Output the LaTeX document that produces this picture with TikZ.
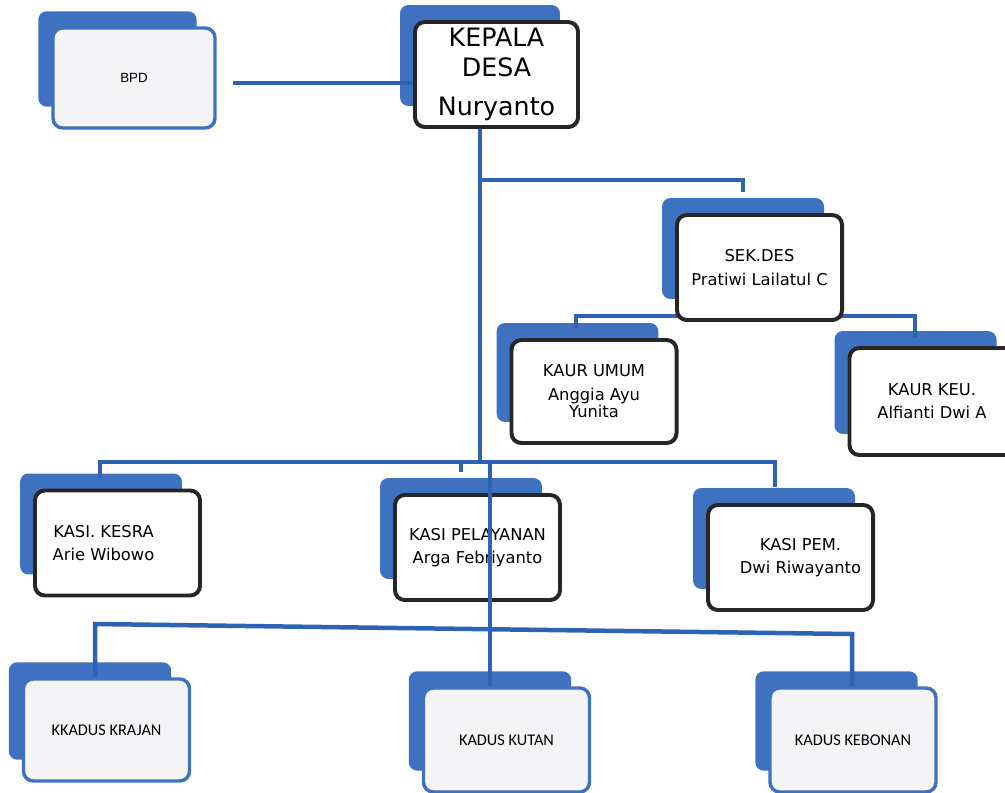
\documentclass[tikz,border=0pt]{standalone}
\usepackage{fontspec}
\setmainfont{DejaVu Sans}
\newfontfamily\kadusfont{Carlito}
\newfontfamily\bpdfont{Liberation Sans}
\usetikzlibrary{calc}
\definecolor{boxblue}{RGB}{62,114,192}
\definecolor{wireblue}{RGB}{46,98,178}
\definecolor{paper}{RGB}{244,244,246}
\pgfdeclarelayer{shade}
\pgfdeclarelayer{wires}
\pgfsetlayers{shade,wires,main}
\newcommand{\shadebox}[1]{\begin{pgfonlayer}{shade}\fill[boxblue, rounded corners=6pt] ($(#1.north west)+(-13,-15)$) rectangle ($(#1.south east)+(-20,-23)$);\end{pgfonlayer}}

\tikzset{
  wire/.style={draw=wireblue, line width=3.2pt},
  staff/.style={draw=black!85, line width=2.8pt, fill=white, rounded corners=7pt, align=center,
    minimum width=4.125cm, minimum height=2.625cm, inner sep=1pt, font=\fontsize{11.6}{12.5}\selectfont},
  hamlet/.style={draw=boxblue, line width=2.4pt, fill=paper, rounded corners=7pt, align=center,
    minimum width=4.15cm, minimum height=2.55cm, font=\kadusfont\fontsize{11.6}{13}\selectfont},
}

\begin{document}
\begin{tikzpicture}[x=0.025cm, y=-0.025cm]
\useasboundingbox (0,0) rectangle (1005,792);
\node[hamlet, font=\bpdfont\fontsize{9.5}{11}\selectfont, minimum width=4.05cm, minimum height=2.5cm] (bpd) at (134,78) {BPD};
\node[staff, font=\fontsize{18}{21.5}\selectfont, minimum width=4.075cm] (kades) at (496.5,74.5) {KEPALA\\DESA\\[6pt]Nuryanto};
\node[staff] (sekdes) at (759.5,267.5) {SEK.DES\\[4pt]Pratiwi Lailatul C};
\node[staff, minimum height=2.575cm] (umum) at (594,391.5) {KAUR UMUM\\[4pt]Anggia Ayu\\Yunita};
\node[staff, minimum height=2.675cm] (keu) at (932,401.5) {KAUR KEU.\\[4pt]Alfianti Dwi A};
\node[staff] (kesra) at (117.5,543) {\hspace*{-0.7cm}KASI. KESRA\\[4pt]\hspace*{-0.7cm}Arie Wibowo};
\node[staff] (pelayanan) at (477.5,547.5) {KASI PELAYANAN\\[4pt]Arga Febriyanto};
\node[staff] (pem) at (790.5,557.5) {\hspace*{0.5cm}KASI PEM.\\[4pt]\hspace*{0.5cm}Dwi Riwayanto};
\node[hamlet] (krajan) at (106.5,730) {KKADUS KRAJAN};
\node[hamlet, minimum height=2.6cm] (kutan) at (506.5,740) {KADUS KUTAN};
\node[hamlet, minimum height=2.6cm] (kebonan) at (853,740) {KADUS KEBONAN};

\foreach \n in {bpd,kades,sekdes,umum,keu,kesra,pelayanan,pem,krajan,kutan,kebonan}
  \shadebox{\n};

\coordinate (bpdend) at (233,83);
\coordinate (trunk) at (480,462);
\coordinate (sekfork) at (480,180);
\coordinate (sekdestop) at (743,192);
\coordinate (subbus) at (700,316);
\coordinate (umumtop) at (576,328);
\coordinate (keutop) at (915,338);
\coordinate (kesratop) at (100,478);
\coordinate (pelayanantop) at (461,472);
\coordinate (pemtop) at (775,487);
\coordinate (kadustrunk) at (490,464);
\coordinate (kadusbusL) at (95,624);
\coordinate (kadusbusR) at (852,634);

\begin{pgfonlayer}{wires}
\draw[wire] (bpdend) -- (bpdend -| kades.west);
\draw[wire] (trunk |- kades.south) -- (trunk);
\draw[wire] (sekfork) -| (sekdestop);
\draw[wire] (umumtop) |- (subbus) -| (keutop);
\draw[wire] (kesratop) -- (kesratop |- trunk) -| (pemtop);
\draw[wire] (pelayanantop) -- (pelayanantop |- trunk);
\draw[wire] (krajan.north -| kadusbusL) -- (kadusbusL) -- (kadusbusR) -- (kadusbusR |- kebonan.north);
\end{pgfonlayer}
\draw[wire] (kadustrunk) -- (kadustrunk |- kutan.north);
\end{tikzpicture}
\end{document}
